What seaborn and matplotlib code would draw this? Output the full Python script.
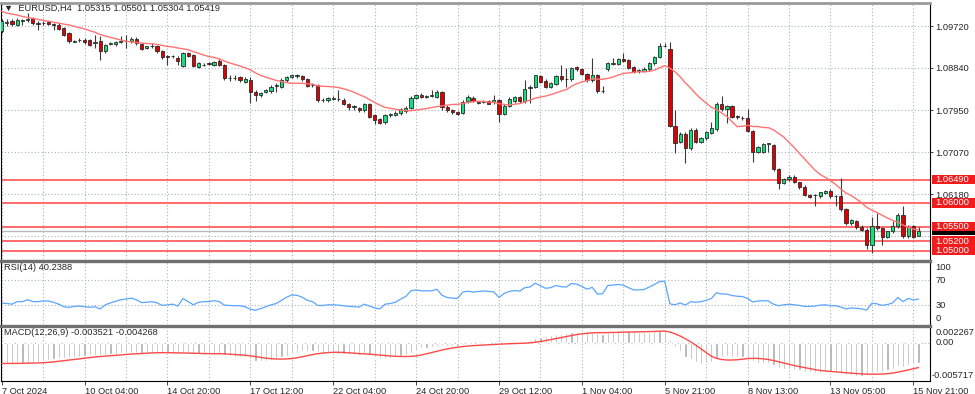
import numpy as np
import pandas as pd
import matplotlib
matplotlib.use("Agg")
import matplotlib.pyplot as plt
import matplotlib.transforms as mtransforms
from matplotlib.patches import Rectangle
import seaborn as sns

# EURUSD H4 candles (oldest first)
opens = [
    1.0962, 1.0979, 1.0983, 1.0975, 1.0983, 1.0985, 1.0989, 1.0978, 1.0978, 1.0980,
    1.0976, 1.0975, 1.0968, 1.0957, 1.0939, 1.0942, 1.0943, 1.0942, 1.0936, 1.0941,
    1.0920, 1.0935, 1.0934, 1.0939, 1.0940, 1.0940, 1.0945, 1.0934, 1.0926, 1.0929,
    1.0929, 1.0919, 1.0910, 1.0908, 1.0905, 1.0887, 1.0915, 1.0912, 1.0886, 1.0890,
    1.0894, 1.0891, 1.0898, 1.0891, 1.0862, 1.0862, 1.0864, 1.0855, 1.0859, 1.0834,
    1.0826, 1.0834, 1.0835, 1.0846, 1.0844, 1.0859, 1.0864, 1.0867, 1.0867, 1.0860,
    1.0848, 1.0848, 1.0816, 1.0816, 1.0819, 1.0818, 1.0816, 1.0807, 1.0802, 1.0799,
    1.0795, 1.0807, 1.0784, 1.0776, 1.0770, 1.0785, 1.0785, 1.0789, 1.0793, 1.0800,
    1.0821, 1.0828, 1.0823, 1.0825, 1.0823, 1.0834, 1.0802, 1.0795, 1.0791, 1.0789,
    1.0814, 1.0821, 1.0811, 1.0813, 1.0814, 1.0812, 1.0816, 1.0786, 1.0804, 1.0814,
    1.0822, 1.0814, 1.0841, 1.0843, 1.0867, 1.0857, 1.0844, 1.0850, 1.0867, 1.0860,
    1.0861, 1.0885, 1.0881, 1.0871, 1.0859, 1.0869, 1.0835, 1.0881, 1.0893, 1.0892,
    1.0902, 1.0901, 1.0885, 1.0878, 1.0878, 1.0881, 1.0894, 1.0906, 1.0930, 1.0924,
    1.0762, 1.0728, 1.0746, 1.0715, 1.0753, 1.0729, 1.0736, 1.0748, 1.0755, 1.0809,
    1.0797, 1.0804, 1.0782, 1.0778, 1.0779, 1.0752, 1.0707, 1.0708, 1.0724, 1.0722,
    1.0671, 1.0641, 1.0650, 1.0655, 1.0643, 1.0634, 1.0617, 1.0616, 1.0615, 1.0620,
    1.0626, 1.0614, 1.0615, 1.0587, 1.0557, 1.0562, 1.0550, 1.0544, 1.0511, 1.0551,
    1.0547, 1.0529, 1.0540, 1.0551, 1.0575, 1.0530, 1.0551, 1.05315,
]
highs = [
    1.0987, 1.0986, 1.0987, 1.0989, 1.0987, 1.0999, 1.0992, 1.0983, 1.0983, 1.0983,
    1.0979, 1.0978, 1.0970, 1.0959, 1.0942, 1.0946, 1.0946, 1.0945, 1.0954, 1.0951,
    1.0934, 1.0939, 1.0941, 1.0951, 1.0954, 1.0949, 1.0948, 1.0936, 1.0931, 1.0936,
    1.0932, 1.0922, 1.0912, 1.0911, 1.0908, 1.0917, 1.0918, 1.0914, 1.0896, 1.0894,
    1.0897, 1.0899, 1.0902, 1.0893, 1.0869, 1.0869, 1.0867, 1.0864, 1.0865, 1.0838,
    1.0834, 1.0840, 1.0848, 1.0852, 1.0862, 1.0867, 1.0871, 1.0871, 1.0870, 1.0863,
    1.0852, 1.0850, 1.0820, 1.0823, 1.0824, 1.0838, 1.0820, 1.0810, 1.0806, 1.0802,
    1.0810, 1.0810, 1.0786, 1.0779, 1.0786, 1.0789, 1.0793, 1.0800, 1.0804, 1.0824,
    1.0830, 1.0831, 1.0827, 1.0838, 1.0838, 1.0836, 1.0805, 1.0798, 1.0793, 1.0816,
    1.0826, 1.0824, 1.0815, 1.0817, 1.0816, 1.0826, 1.0818, 1.0807, 1.0822, 1.0825,
    1.0825, 1.0859, 1.0847, 1.0870, 1.0870, 1.0860, 1.0854, 1.0870, 1.0889, 1.0883,
    1.0886, 1.0888, 1.0884, 1.0873, 1.0905, 1.0871, 1.0846, 1.0896, 1.0904, 1.0905,
    1.0915, 1.0903, 1.0888, 1.0882, 1.0885, 1.0896, 1.0909, 1.0936, 1.0936, 1.0939,
    1.0795, 1.0749, 1.0749, 1.0757, 1.0757, 1.0739, 1.0752, 1.0771, 1.0812, 1.0825,
    1.0806, 1.0806, 1.0785, 1.0782, 1.0797, 1.0754, 1.0720, 1.0726, 1.0727, 1.0724,
    1.0674, 1.0652, 1.0658, 1.0658, 1.0645, 1.0637, 1.0619, 1.0619, 1.0624, 1.0628,
    1.0629, 1.0617, 1.0652, 1.0589, 1.0566, 1.0564, 1.0553, 1.0547, 1.0571, 1.0578,
    1.0549, 1.0542, 1.0562, 1.0578, 1.0594, 1.0553, 1.0554, 1.05501,
]
lows = [
    1.0957, 1.0971, 1.0972, 1.0971, 1.0975, 1.0981, 1.0974, 1.0964, 1.0974, 1.0974,
    1.0964, 1.0963, 1.0951, 1.0936, 1.0938, 1.0939, 1.0935, 1.0929, 1.0926, 1.0901,
    1.0916, 1.0932, 1.0931, 1.0936, 1.0926, 1.0937, 1.0933, 1.0922, 1.0924, 1.0926,
    1.0915, 1.0903, 1.0891, 1.0905, 1.0890, 1.0885, 1.0906, 1.0885, 1.0883, 1.0887,
    1.0889, 1.0888, 1.0888, 1.0859, 1.0856, 1.0858, 1.0855, 1.0852, 1.0810, 1.0814,
    1.0823, 1.0832, 1.0832, 1.0834, 1.0842, 1.0855, 1.0862, 1.0863, 1.0857, 1.0843,
    1.0844, 1.0813, 1.0813, 1.0813, 1.0816, 1.0815, 1.0805, 1.0796, 1.0795, 1.0792,
    1.0792, 1.0779, 1.0766, 1.0766, 1.0767, 1.0781, 1.0782, 1.0785, 1.0790, 1.0798,
    1.0818, 1.0821, 1.0821, 1.0823, 1.0821, 1.0796, 1.0792, 1.0788, 1.0784, 1.0786,
    1.0811, 1.0812, 1.0808, 1.0811, 1.0807, 1.0809, 1.0770, 1.0784, 1.0802, 1.0811,
    1.0811, 1.0811, 1.0810, 1.0841, 1.0852, 1.0842, 1.0842, 1.0847, 1.0857, 1.0844,
    1.0857, 1.0878, 1.0868, 1.0855, 1.0855, 1.0832, 1.0832, 1.0878, 1.0890, 1.0889,
    1.0897, 1.0881, 1.0873, 1.0874, 1.0875, 1.0878, 1.0891, 1.0904, 1.0927, 1.0760,
    1.0704, 1.0725, 1.0683, 1.0712, 1.0726, 1.0726, 1.0733, 1.0745, 1.0752, 1.0794,
    1.0768, 1.0778, 1.0777, 1.0774, 1.0749, 1.0687, 1.0704, 1.0706, 1.0708, 1.0668,
    1.0629, 1.0639, 1.0647, 1.0642, 1.0630, 1.0614, 1.0610, 1.0594, 1.0611, 1.0618,
    1.0611, 1.0594, 1.0584, 1.0553, 1.0553, 1.0546, 1.0542, 1.0503, 1.0495, 1.0544,
    1.0512, 1.0526, 1.0537, 1.0548, 1.0527, 1.0527, 1.0526, 1.05304,
]
closes = [
    1.0983, 1.0981, 1.0976, 1.0985, 1.0984, 1.0987, 1.0978, 1.0976, 1.0979, 1.0977,
    1.0975, 1.0966, 1.0954, 1.0940, 1.0940, 1.0943, 1.0938, 1.0933, 1.0939, 1.0920,
    1.0932, 1.0937, 1.0938, 1.0941, 1.0941, 1.0945, 1.0936, 1.0924, 1.0929, 1.0930,
    1.0919, 1.0906, 1.0907, 1.0909, 1.0898, 1.0915, 1.0908, 1.0887, 1.0894, 1.0891,
    1.0892, 1.0896, 1.0891, 1.0863, 1.0863, 1.0863, 1.0859, 1.0861, 1.0834, 1.0826,
    1.0832, 1.0837, 1.0844, 1.0847, 1.0859, 1.0864, 1.0868, 1.0868, 1.0860, 1.0846,
    1.0849, 1.0816, 1.0817, 1.0820, 1.0820, 1.0819, 1.0807, 1.0802, 1.0803, 1.0795,
    1.0807, 1.0781, 1.0774, 1.0769, 1.0784, 1.0786, 1.0790, 1.0797, 1.0800, 1.0821,
    1.0827, 1.0823, 1.0824, 1.0826, 1.0834, 1.0802, 1.0795, 1.0791, 1.0786, 1.0813,
    1.0823, 1.0815, 1.0812, 1.0814, 1.0809, 1.0816, 1.0786, 1.0804, 1.0819, 1.0822,
    1.0814, 1.0840, 1.0844, 1.0868, 1.0855, 1.0844, 1.0852, 1.0867, 1.0860, 1.0861,
    1.0883, 1.0881, 1.0871, 1.0859, 1.0869, 1.0835, 1.0836, 1.0894, 1.0894, 1.0902,
    1.0899, 1.0883, 1.0876, 1.0879, 1.0882, 1.0894, 1.0906, 1.0931, 1.0931, 1.0762,
    1.0725, 1.0746, 1.0715, 1.0753, 1.0729, 1.0736, 1.0750, 1.0757, 1.0809, 1.0797,
    1.0804, 1.0780, 1.0780, 1.0779, 1.0752, 1.0707, 1.0717, 1.0724, 1.0725, 1.0671,
    1.0641, 1.0650, 1.0655, 1.0645, 1.0633, 1.0617, 1.0613, 1.0617, 1.0622, 1.0626,
    1.0615, 1.0615, 1.0587, 1.0557, 1.0564, 1.0549, 1.0544, 1.0511, 1.0551, 1.0547,
    1.0529, 1.0540, 1.0551, 1.0575, 1.0530, 1.0550, 1.0529, 1.05419,
]
# MA(14) values on the first bars, before 14 closes are available
ma_lead = [1.1003, 1.0999, 1.0997, 1.0995, 1.0992, 1.0990, 1.0988,
           1.0986, 1.0984, 1.0982, 1.0980, 1.0978, 1.0976]

rsi = [
    34, 33, 32, 36, 36, 39, 36, 36, 37, 37,
    35, 32, 28, 27, 28.5, 29, 28, 27, 28, 24.5,
    31, 34, 36.5, 39, 40, 41.5, 39, 34.5, 35, 36,
    34, 30, 31, 32, 29, 41, 36, 31, 35, 36,
    36, 37.5, 36, 30.5, 30, 29.5, 29.5, 28, 24, 22.5,
    25, 28, 31, 33, 38, 43, 46.5, 46, 43, 38,
    36, 30, 30, 31, 31, 30.5, 29.5, 28.5, 28, 27.5,
    32, 29, 26, 24.5, 32, 33, 35, 40, 44, 53,
    54.5, 53, 53, 53, 55.5, 46, 42.5, 41.5, 41, 51,
    52.5, 51, 52, 52.8, 52, 51.5, 42.5, 49, 52, 53.5,
    52.5, 58, 59, 65, 61, 57, 58, 61.5, 59.5, 59,
    64.5, 63.5, 60, 55.5, 58.5, 48, 48.5, 61.5, 62, 63,
    62, 58, 54.5, 54.5, 55, 59, 63, 67.5, 68, 32.5,
    31, 34, 30.5, 36, 35, 36, 38, 41, 50, 48,
    48, 45.5, 44.5, 44, 41, 35.5, 37, 37.5, 37, 32,
    29.5, 31, 32, 31, 30, 28.5, 28.5, 29, 30.5, 31,
    29.5, 29.5, 27.5, 24.5, 26, 25.5, 24.5, 22.8, 33.5, 32.5,
    30, 31.5, 34, 42.5, 36, 41, 38.5, 40.2388,
]

# MACD main line, in units of 1e-4
macd_main_e4 = [
    -36, -36, -36, -35.5, -35, -34.5, -34, -33.5, -32, -30,
    -28.5, -27, -26, -25.5, -25, -24.5, -23, -22, -21, -22,
    -21, -20, -19, -18, -17.5, -17, -17, -17, -17, -16.5,
    -17, -18, -18.5, -19, -19.5, -18, -18, -19.5, -19.5, -19.5,
    -19.5, -19, -19, -21.5, -23, -24, -25, -25.5, -28.5, -31,
    -31.5, -31, -29.5, -28, -25.5, -22.5, -19.5, -17, -15, -14.5,
    -14, -16, -17.5, -18, -18.5, -19, -19.5, -20, -20.5, -21,
    -20, -22, -24.5, -26.5, -26.5, -26, -25, -23.5, -21.5, -18,
    -14.5, -10, -8.5, -7, -5.5, -6, -6.5, -6.5, -6, -4,
    -2.5, -2, -1.5, -1.5, -1.5, -1, -2.5, -2, -1, 0,
    0, 2, 4, 8, 10, 12, 13.5, 15, 15.5, 16,
    18, 19, 19, 18.5, 18.5, 16.5, 15, 17, 18.5, 20,
    21, 20.5, 19.5, 19, 18.5, 19, 20, 21.5, 22.67, 5,
    -7, -15, -24, -29, -34, -37, -36, -34, -28, -25,
    -23, -24, -25, -25.5, -27.5, -32.5, -34.5, -35, -35.5, -39,
    -43, -45, -45.5, -46.5, -48, -50, -51.5, -52, -52, -51,
    -51.5, -51.5, -53.5, -55.5, -56.5, -57, -57.17, -56, -53, -50,
    -50, -48, -46, -41, -42, -38, -37, -35.21,
]

date_labels = ["7 Oct 2024", "10 Oct 04:00", "14 Oct 20:00", "17 Oct 12:00",
               "22 Oct 04:00", "24 Oct 20:00", "29 Oct 12:00", "1 Nov 04:00",
               "5 Nov 21:00", "8 Nov 13:00", "13 Nov 05:00", "15 Nov 21:00"]
price_grid = [1.0972, 1.0884, 1.0795, 1.0707, 1.0618, 1.0530]
levels = [1.0649, 1.0600, 1.0550, 1.0520, 1.0500]

df = pd.DataFrame({"o": opens, "h": highs, "l": lows, "c": closes, "rsi": rsi})
df["bar"] = np.arange(len(df))
ma = df["c"].rolling(14).mean()
ma.iloc[:len(ma_lead)] = ma_lead
df["ma"] = ma
df["macd"] = np.array(macd_main_e4) * 1e-4
df["signal"] = df["macd"].rolling(9, min_periods=1).mean()

sns.set_style("white")
plt.rcParams["font.family"] = ["Liberation Sans", "DejaVu Sans"]
fs = 6.7
grid_c = "#a9b1bd"
dots = (0, (1, 2))

fig = plt.figure(figsize=(9.75, 3.94), dpi=100)
ax = fig.add_axes([0.001, 0.3439, 0.9528, 0.6497])
ax_rsi = fig.add_axes([0.001, 0.1764, 0.9528, 0.1612], sharex=ax)
ax_macd = fig.add_axes([0.001, 0.033, 0.9528, 0.1396], sharex=ax)

n = len(df)
for a in (ax, ax_rsi, ax_macd):
    for b in range(0, n + 8, 8):
        a.axvline(b, color=grid_c, ls=dots, lw=0.8, zorder=0)
    for s in ("left", "right", "bottom", "top"):
        a.spines[s].set_visible(True)
        a.spines[s].set_color("black")
        a.spines[s].set_linewidth(0.8)
    a.spines["bottom"].set_visible(False)
    a.spines["top"].set_color("#707070")
    a.spines["top"].set_linewidth(2.4)
    a.tick_params(axis="x", bottom=False, labelbottom=False)
    a.yaxis.tick_right()
    a.tick_params(axis="y", length=2, width=0.6, pad=2, labelsize=fs)

# ---- price panel ----
for y in price_grid:
    ax.axhline(y, color=grid_c, ls=dots, lw=0.8, zorder=0)
for lv in levels:
    ax.axhline(lv, color="#ff6b6b", lw=1.4, zorder=1)
ax.axhline(closes[-1], color="#b8b8b8", lw=1, zorder=1)

ax.vlines(df["bar"], df["l"], df["h"], color="#3a3a3a", lw=0.8, zorder=2)
up = df[df["c"] >= df["o"]]
dn = df[df["c"] < df["o"]]
ax.bar(up["bar"], up["c"] - up["o"], bottom=up["o"], width=0.62,
       color="#12e07a", edgecolor="#2a2a2a", linewidth=0.6, zorder=3)
ax.bar(dn["bar"], dn["o"] - dn["c"], bottom=dn["c"], width=0.62,
       color="#e00000", edgecolor="#2a2a2a", linewidth=0.6, zorder=3)
sns.lineplot(data=df, x="bar", y="ma", ax=ax, color="#ff7373", linewidth=1, zorder=4)

ax.set_xlim(-0.14, 179.2)
ax.set_ylim(1.04832, 1.10214)
ax.set_yticks(price_grid[:5])
ax.set_yticklabels([f"{v:.5f}" for v in price_grid[:5]])
ax.set_xlabel("")
ax.set_ylabel("")
ax.spines["top"].set_color("#9a9a9a")
ax.spines["top"].set_linewidth(2)

# price tags on the right edge: bid (black, mostly hidden) and the red levels
trans = mtransforms.blended_transform_factory(ax.transAxes, ax.transData)
tag_w = 43 / 929
tag_h = 0.00200
ax.add_patch(Rectangle((1.002, closes[-1] - tag_h / 2), tag_w, tag_h, transform=trans,
                       fc="black", ec="none", clip_on=False, zorder=5))
for lv in levels:
    ax.add_patch(Rectangle((1.002, lv - tag_h / 2), tag_w, tag_h, transform=trans,
                           fc="#f21c1c", ec="none", clip_on=False, zorder=6))
    ax.text(1.006, lv, f"{lv:.5f}", transform=trans, color="white", fontsize=fs,
            va="center", ha="left", clip_on=False, zorder=7)

fig.text(4 / 975, 1 - 8 / 394,
         "\u25bc  EURUSD,H4  %.5f %.5f %.5f %.5f" % (opens[-1], highs[-1], lows[-1], closes[-1]),
         fontsize=fs, va="center", ha="left")

# ---- RSI panel ----
for y in (70, 30):
    ax_rsi.axhline(y, color=grid_c, ls=dots, lw=0.8, zorder=0)
sns.lineplot(data=df, x="bar", y="rsi", ax=ax_rsi, color="#5aa5ff", linewidth=0.9)
ax_rsi.set_ylim(0, 100)
ax_rsi.set_yticks([])
ax_rsi.set_xlabel("")
ax_rsi.set_ylabel("")
rtrans = mtransforms.blended_transform_factory(ax_rsi.transAxes, ax_rsi.transData)
for val, ypos in (("100", 90.5), ("70", 70), ("30", 30), ("0", 10.2)):
    ax_rsi.text(1.006, ypos, val, transform=rtrans, fontsize=fs, va="center",
                ha="left", clip_on=False)
ax_rsi.text(0.003, 0.89, "RSI(14) 40.2388", transform=ax_rsi.transAxes,
            fontsize=fs, va="center", ha="left")

# ---- MACD panel ----
ax_macd.axhline(0, color=grid_c, ls=dots, lw=0.8, zorder=0)
ax_macd.bar(df["bar"], df["macd"], width=0.42, color="#ababab", zorder=2)
sns.lineplot(data=df, x="bar", y="signal", ax=ax_macd, color="#ff4848",
             linewidth=1, zorder=3)
ax_macd.set_ylim(-0.006634, 0.002892)
ax_macd.set_yticks([])
ax_macd.set_ylabel("")
ax_macd.spines["bottom"].set_visible(True)
mtrans = mtransforms.blended_transform_factory(ax_macd.transAxes, ax_macd.transData)
mmax, mmin = df["macd"].max(), df["macd"].min()
ax_macd.annotate(f"{mmax:.6f}", xy=(1, mmax), xycoords=mtrans, xytext=(4, -2.2),
                 textcoords="offset points", fontsize=fs, va="center", ha="left",
                 annotation_clip=False)
ax_macd.text(1.006, 0, "0.00", transform=mtrans, fontsize=fs, va="center",
             ha="left", clip_on=False)
ax_macd.text(1.002, mmin, f"{mmin:.6f}", transform=mtrans, fontsize=fs,
             va="center", ha="left", clip_on=False)
ax_macd.text(0.003, 0.873, "MACD(12,26,9) -0.003521 -0.004268",
             transform=ax_macd.transAxes, fontsize=fs, va="center", ha="left")

ax_macd.set_xticks(range(0, 177, 16))
ax_macd.set_xticklabels(date_labels)
ax_macd.tick_params(axis="x", bottom=True, labelbottom=True, length=3,
                    width=0.6, pad=1, labelsize=fs)
for lbl in ax_macd.get_xticklabels():
    lbl.set_ha("left")
ax_macd.set_xlabel("")

fig.savefig("out.png", dpi=100)
